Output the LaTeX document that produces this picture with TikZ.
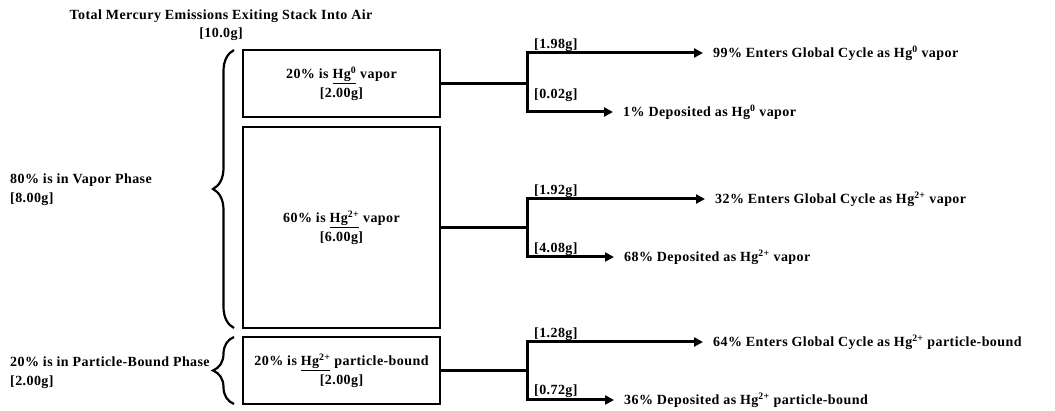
\documentclass[tikz,border=0pt]{standalone}
\usepackage{fontspec}
\setmainfont{Liberation Serif}[LetterSpace=3]
\usetikzlibrary{arrows.meta,decorations.pathreplacing}
\newcommand\grams[1]{[#1]}
\tikzset{
  txt/.style={font=\fontsize{14}{18.5}\selectfont\bfseries, align=center, inner sep=0pt},
  hgbox/.style={txt, draw, line width=2pt, minimum width=197pt},
  feed/.style={line width=2.2pt},
  split/.style={line width=3pt, -{Triangle[length=9pt,width=9pt]}},
  outtxt/.style={txt, anchor=west, inner xsep=10pt},
  gram/.style={txt, anchor=south west, inner sep=1pt},
  phase/.style={txt, align=left, anchor=west},
  bracket/.style={line width=2.2pt, decorate, decoration={brace, amplitude=21pt}}
}
\begin{document}
\begin{tikzpicture}[x=1pt,y=-1pt]
\useasboundingbox (0,0) rectangle (1055,411);
\node[txt] (title) at (221,25) {Total Mercury Emissions Exiting Stack Into Air\\\grams{10.0g}};
\node[hgbox, minimum height=67pt] (hg0) at (341.5,83.5) {20\% is \underline{Hg\textsuperscript{0}} vapor\\\grams{2.00g}};
\node[hgbox, minimum height=201pt] (hg2) at (341.5,227.5) {60\% is \underline{Hg\textsuperscript{2+}} vapor\\\grams{6.00g}};
\node[hgbox, minimum height=67pt] (hgp) at (341.5,370.5) {20\% is \underline{Hg\textsuperscript{2+}} particle-bound\\\grams{2.00g}};
\draw[bracket] (234,328) -- (234,50);
\draw[bracket] (234,404) -- (234,337);
\node[phase] (vap) at (10,189.5) {80\% is in Vapor Phase\\\grams{8.00g}};
\node[phase] (part) at (10,372.5) {20\% is in Particle-Bound Phase\\\grams{2.00g}};
\coordinate (j1) at (527,83.5);
\coordinate (j2) at (527,227.5);
\coordinate (j3) at (527,370.5);
\node[outtxt] (o1) at (703,53) {99\% Enters Global Cycle as Hg\textsuperscript{0} vapor};
\node[outtxt] (o2) at (613,112) {1\% Deposited as Hg\textsuperscript{0} vapor};
\node[outtxt] (o3) at (705,199) {32\% Enters Global Cycle as Hg\textsuperscript{2+} vapor};
\node[outtxt] (o4) at (614,257) {68\% Deposited as Hg\textsuperscript{2+} vapor};
\node[outtxt] (o5) at (703,342) {64\% Enters Global Cycle as Hg\textsuperscript{2+} particle-bound};
\node[outtxt] (o6) at (614,400) {36\% Deposited as Hg\textsuperscript{2+} particle-bound};
\draw[feed] (hg0) -- (j1);
\draw[feed] (hg2) -- (j2);
\draw[feed] (hgp) -- (j3);
\draw[split] (j1) |- (o1);
\draw[split] (j1) |- (o2);
\draw[split] (j2) |- (o3);
\draw[split] (j2) |- (o4);
\draw[split] (j3) |- (o5);
\draw[split] (j3) |- (o6);
\node[gram] at (533,53) {\grams{1.98g}};
\node[gram] at (533,103) {\grams{0.02g}};
\node[gram] at (533,199) {\grams{1.92g}};
\node[gram] at (533,257) {\grams{4.08g}};
\node[gram] at (533,342) {\grams{1.28g}};
\node[gram] at (533,399) {\grams{0.72g}};
\end{tikzpicture}
\end{document}
